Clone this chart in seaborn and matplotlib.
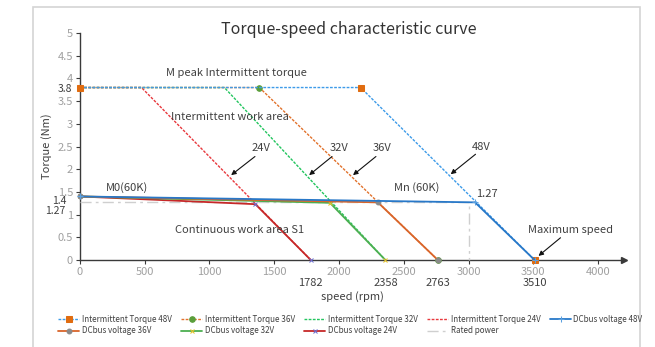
import matplotlib
matplotlib.use("Agg")
import matplotlib.pyplot as plt
import matplotlib.patches as mpatches
import seaborn as sns
import pandas as pd

# Intermittent (peak) torque envelopes per bus voltage
torque_peak = [3.8, 3.8, 0.0]
speed_i48 = [0, 2167, 3510]
speed_i36 = [0, 1385, 2763]
speed_i32 = [0, 1115, 2358]
speed_i24 = [0, 475, 1782]

# Continuous (S1) torque curves per bus voltage
speed_c48 = [0, 3050, 3510]
torque_c48 = [1.4, 1.27, 0.0]
speed_c36 = [0, 2300, 2763]
torque_c36 = [1.4, 1.27, 0.0]
speed_c32 = [0, 1930, 2358]
torque_c32 = [1.4, 1.26, 0.0]
speed_c24 = [0, 1354, 1782]
torque_c24 = [1.4, 1.23, 0.0]

# Rated power operating point
speed_rated = [0, 3000, 3000]
torque_rated = [1.27, 1.27, 0.0]

max_speeds = [1782, 2358, 2763, 3510]
x_ticks = [0, 500, 1000, 1500, 2000, 2500, 3000, 3500, 4000]
y_ticks = [0, 0.5, 1, 1.5, 2, 2.5, 3, 3.5, 4, 4.5, 5]

sns.set_theme(style="white")
plt.rcParams["font.family"] = ["Noto Sans CJK SC", "DejaVu Sans"]

fig = plt.figure(figsize=(6.55, 3.47), dpi=100)
ax = fig.add_axes([0.1221, 0.2507, 0.8305, 0.654])

TXT = "#404040"

series = [
    # label, x, y, color, linestyle, marker, marker color, marker size, lw
    ("Rated power", speed_rated, torque_rated, "#cfcfcf", (0, (8, 3, 2, 3)), None, None, 0, 1.0),
    ("Intermittent Torque 24V", speed_i24, torque_peak, "#e8383d", (0, (2, 1)), None, None, 0, 1.0),
    ("Intermittent Torque 32V", speed_i32, torque_peak, "#22c55e", (0, (2, 1)), None, None, 0, 1.0),
    ("Intermittent Torque 36V", speed_i36, torque_peak, "#e2722c", (0, (2, 1)), "o", "#5a9e3a", 4, 1.0),
    ("Intermittent Torque 48V", speed_i48, torque_peak, "#3d9be9", (0, (2, 1)), "s", "#e06c10", 4.5, 1.0),
    ("DCbus voltage 24V", speed_c24, torque_c24, "#c62828", "-", "x", "#6a6fd0", 3.5, 1.3),
    ("DCbus voltage 32V", speed_c32, torque_c32, "#4caf50", "-", "x", "#e8c22a", 3.5, 1.3),
    ("DCbus voltage 36V", speed_c36, torque_c36, "#d9652a", "-", "o", "#8a8a8a", 3.5, 1.3),
    ("DCbus voltage 48V", speed_c48, torque_c48, "#2878c8", "-", "+", "#5aa0e0", 4.5, 1.3),
]

handles = {}
for label, xs, ys, color, ls, mk, mc, ms, lw in series:
    df = pd.DataFrame({"speed": xs, "torque": ys})
    sns.lineplot(data=df, x="speed", y="torque", sort=False, estimator=None, ax=ax,
                 color=color, linestyle=ls, lw=lw, marker=mk if mk else None,
                 markersize=ms, markerfacecolor=mc, markeredgecolor=mc,
                 label=label, legend=False, clip_on=False, zorder=3)
    handles[label] = ax.lines[-1]

ax.set_xlim(0, 4200)
ax.set_ylim(0, 5)
ax.set_xticks(x_ticks)
ax.set_yticks(y_ticks)
ax.set_xticklabels([str(v) for v in x_ticks])
ax.set_yticklabels([f"{v:g}" for v in y_ticks])
ax.tick_params(axis="both", colors="#3a3a3a", labelcolor="#a0a0a0", labelsize=8,
               length=3, width=0.8, direction="out", pad=2)
ax.tick_params(axis="x", pad=2)
ax.tick_params(left=True, bottom=True)

for side in ("top", "right"):
    ax.spines[side].set_visible(False)
for side in ("left", "bottom"):
    ax.spines[side].set_color("#3a3a3a")
    ax.spines[side].set_linewidth(1.0)
ax.plot(1.0, 0.0, ">", color="#3a3a3a", markersize=4, transform=ax.transAxes, clip_on=False)

ax.set_xlabel("speed (rpm)", fontsize=8, color=TXT, labelpad=10)
ax.set_ylabel("Torque (Nm)", fontsize=8, color=TXT, labelpad=4)
ax.grid(False)

fig.text(0.532, 0.915, "Torque-speed characteristic curve", fontsize=11.5,
         color="#333333", ha="center", va="center")

# Region and point annotations
ax.text(1208, 4.11, "M peak Intermittent torque", fontsize=8, color=TXT, ha="center", va="center")
ax.text(1160, 3.16, "Intermittent work area", fontsize=8, color=TXT, ha="center", va="center")
ax.text(1230, 0.67, "Continuous work area S1", fontsize=8, color=TXT, ha="center", va="center")
ax.text(360, 1.6, "M0(60K)", fontsize=8, color=TXT, ha="center", va="center")
ax.text(2600, 1.6, "Mn (60K)", fontsize=8, color=TXT, ha="center", va="center")
ax.text(3060, 1.46, "1.27", fontsize=8, color=TXT, ha="left", va="center")

arrows = [
    ("24V", (1400, 2.46), (1351, 2.28), (1167, 1.87)),
    ("32V", (2000, 2.46), (1946, 2.28), (1769, 1.87)),
    ("36V", (2331, 2.46), (2285, 2.28), (2108, 1.87)),
    ("48V", (3100, 2.5), (3054, 2.33), (2862, 1.89)),
    ("Maximum speed", (3790, 0.67), (3710, 0.49), (3540, 0.09)),
]
for txt, tpos, tail, head in arrows:
    ax.text(tpos[0], tpos[1], txt, fontsize=8, color=TXT, ha="center", va="center")
    ax.annotate("", xy=head, xytext=tail,
                arrowprops=dict(arrowstyle="-|>", color="#111111", lw=0.8,
                                mutation_scale=7, shrinkA=0, shrinkB=0))

for v in max_speeds:
    ax.text(v, -0.5, str(v), fontsize=8, color=TXT, ha="center", va="center", clip_on=False)

ax.text(-62, 3.77, "3.8", fontsize=7.5, color=TXT, ha="right", va="center", clip_on=False)
ax.text(-100, 1.29, "1.4", fontsize=7.5, color=TXT, ha="right", va="center", clip_on=False)
ax.text(-110, 1.07, "1.27", fontsize=7.5, color=TXT, ha="right", va="center", clip_on=False)

# Legend laid out row by row (matplotlib fills columns first)
order = ["Intermittent Torque 48V", "DCbus voltage 36V",
         "Intermittent Torque 36V", "DCbus voltage 32V",
         "Intermittent Torque 32V", "DCbus voltage 24V",
         "Intermittent Torque 24V", "Rated power",
         "DCbus voltage 48V"]
fig.legend([handles[k] for k in order], order, loc="center", ncol=5,
           bbox_to_anchor=(0.535, 0.063), frameon=False, fontsize=5.8,
           handlelength=2.6, handletextpad=0.3, columnspacing=1.2,
           labelspacing=0.3, labelcolor=TXT)

# Outer chart frame
fig.patches.append(mpatches.Rectangle((0.05, -0.02), 0.927, 1.0, transform=fig.transFigure,
                                      fill=False, edgecolor="#d4d4d4", lw=1.2))

fig.savefig("out.png", dpi=100, facecolor="white")
